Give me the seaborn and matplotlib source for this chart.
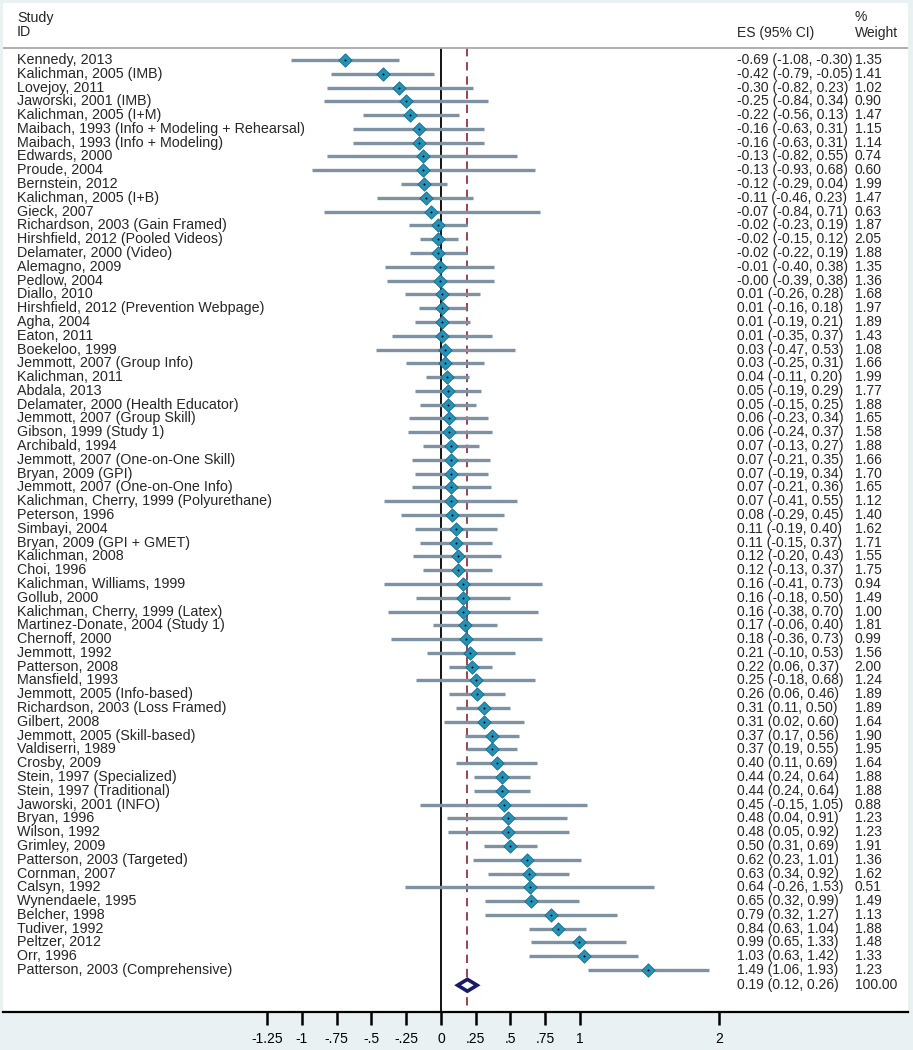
import matplotlib
matplotlib.use("Agg")
import matplotlib.pyplot as plt
import seaborn as sns
import pandas as pd

# study data
studies = [
    "Kennedy, 2013", "Kalichman, 2005 (IMB)", "Lovejoy, 2011", "Jaworski, 2001 (IMB)",
    "Kalichman, 2005 (I+M)", "Maibach, 1993 (Info + Modeling + Rehearsal)",
    "Maibach, 1993 (Info + Modeling)", "Edwards, 2000", "Proude, 2004", "Bernstein, 2012",
    "Kalichman, 2005 (I+B)", "Gieck, 2007", "Richardson, 2003 (Gain Framed)",
    "Hirshfield, 2012 (Pooled Videos)", "Delamater, 2000 (Video)", "Alemagno, 2009",
    "Pedlow, 2004", "Diallo, 2010", "Hirshfield, 2012 (Prevention Webpage)", "Agha, 2004",
    "Eaton, 2011", "Boekeloo, 1999", "Jemmott, 2007 (Group Info)", "Kalichman, 2011",
    "Abdala, 2013", "Delamater, 2000 (Health Educator)", "Jemmott, 2007 (Group Skill)",
    "Gibson, 1999 (Study 1)", "Archibald, 1994", "Jemmott, 2007 (One-on-One Skill)",
    "Bryan, 2009 (GPI)", "Jemmott, 2007 (One-on-One Info)",
    "Kalichman, Cherry, 1999 (Polyurethane)", "Peterson, 1996", "Simbayi, 2004",
    "Bryan, 2009 (GPI + GMET)", "Kalichman, 2008", "Choi, 1996", "Kalichman, Williams, 1999",
    "Gollub, 2000", "Kalichman, Cherry, 1999 (Latex)", "Martinez-Donate, 2004 (Study 1)",
    "Chernoff, 2000", "Jemmott, 1992", "Patterson, 2008", "Mansfield, 1993",
    "Jemmott, 2005 (Info-based)", "Richardson, 2003 (Loss Framed)", "Gilbert, 2008",
    "Jemmott, 2005 (Skill-based)", "Valdiserri, 1989", "Crosby, 2009",
    "Stein, 1997 (Specialized)", "Stein, 1997 (Traditional)", "Jaworski, 2001 (INFO)",
    "Bryan, 1996", "Wilson, 1992", "Grimley, 2009", "Patterson, 2003 (Targeted)",
    "Cornman, 2007", "Calsyn, 1992", "Wynendaele, 1995", "Belcher, 1998", "Tudiver, 1992",
    "Peltzer, 2012", "Orr, 1996", "Patterson, 2003 (Comprehensive)",
]
es = [-0.69, -0.42, -0.30, -0.25, -0.22, -0.16, -0.16, -0.13, -0.13, -0.12,
      -0.11, -0.07, -0.02, -0.02, -0.02, -0.01, -0.004, 0.01, 0.01, 0.01,
      0.01, 0.03, 0.03, 0.04, 0.05, 0.05, 0.06, 0.06, 0.07, 0.07,
      0.07, 0.07, 0.07, 0.08, 0.11, 0.11, 0.12, 0.12, 0.16, 0.16,
      0.16, 0.17, 0.18, 0.21, 0.22, 0.25, 0.26, 0.31, 0.31, 0.37,
      0.37, 0.40, 0.44, 0.44, 0.45, 0.48, 0.48, 0.50, 0.62, 0.63,
      0.64, 0.65, 0.79, 0.84, 0.99, 1.03, 1.49]
lo = [-1.08, -0.79, -0.82, -0.84, -0.56, -0.63, -0.63, -0.82, -0.93, -0.29,
      -0.46, -0.84, -0.23, -0.15, -0.22, -0.40, -0.39, -0.26, -0.16, -0.19,
      -0.35, -0.47, -0.25, -0.11, -0.19, -0.15, -0.23, -0.24, -0.13, -0.21,
      -0.19, -0.21, -0.41, -0.29, -0.19, -0.15, -0.20, -0.13, -0.41, -0.18,
      -0.38, -0.06, -0.36, -0.10, 0.06, -0.18, 0.06, 0.11, 0.02, 0.17,
      0.19, 0.11, 0.24, 0.24, -0.15, 0.04, 0.05, 0.31, 0.23, 0.34,
      -0.26, 0.32, 0.32, 0.63, 0.65, 0.63, 1.06]
hi = [-0.30, -0.05, 0.23, 0.34, 0.13, 0.31, 0.31, 0.55, 0.68, 0.04,
      0.23, 0.71, 0.19, 0.12, 0.19, 0.38, 0.38, 0.28, 0.18, 0.21,
      0.37, 0.53, 0.31, 0.20, 0.29, 0.25, 0.34, 0.37, 0.27, 0.35,
      0.34, 0.36, 0.55, 0.45, 0.40, 0.37, 0.43, 0.37, 0.73, 0.50,
      0.70, 0.40, 0.73, 0.53, 0.37, 0.68, 0.46, 0.50, 0.60, 0.56,
      0.55, 0.69, 0.64, 0.64, 1.05, 0.91, 0.92, 0.69, 1.01, 0.92,
      1.53, 0.99, 1.27, 1.04, 1.33, 1.42, 1.93]
weight = [1.35, 1.41, 1.02, 0.90, 1.47, 1.15, 1.14, 0.74, 0.60, 1.99,
          1.47, 0.63, 1.87, 2.05, 1.88, 1.35, 1.36, 1.68, 1.97, 1.89,
          1.43, 1.08, 1.66, 1.99, 1.77, 1.88, 1.65, 1.58, 1.88, 1.66,
          1.70, 1.65, 1.12, 1.40, 1.62, 1.71, 1.55, 1.75, 0.94, 1.49,
          1.00, 1.81, 0.99, 1.56, 2.00, 1.24, 1.89, 1.89, 1.64, 1.90,
          1.95, 1.64, 1.88, 1.88, 0.88, 1.23, 1.23, 1.91, 1.36, 1.62,
          0.51, 1.49, 1.13, 1.88, 1.48, 1.33, 1.23]
overall_es, overall_lo, overall_hi, overall_weight = 0.19, 0.12, 0.26, 100.00
xticks = [-1.25, -1, -0.75, -0.5, -0.25, 0, 0.25, 0.5, 0.75, 1, 2]
xtick_labels = ["-1.25", "-1", "-.75", "-.5", "-.25", "0", ".25", ".5", ".75", "1", "2"]

df = pd.DataFrame({"study": studies, "es": es, "lo": lo, "hi": hi, "weight": weight})
df["row"] = range(1, len(df) + 1)
overall_row = len(df) + 1.1

sns.set_theme(style="white")
plt.rcParams["font.family"] = ["Liberation Sans", "DejaVu Sans"]

fig = plt.figure(figsize=(9.13, 10.5), dpi=100, facecolor="#e9f1f3")
ax = fig.add_axes([3 / 913, 38 / 1050, 905 / 913, 1009 / 1050])
ax.set_facecolor("white")
ax.set_xlim(-3.151, 3.36)
ax.set_ylim(70.04, -3.13)
top = 0.13

# reference lines
ax.vlines(0, top, 70.04, color="black", lw=1.3, zorder=1)
ax.vlines(overall_es, top, 70.04, color="#8b2232", lw=1.2,
          linestyles=(0, (5, 3.5)), zorder=1)
ax.axhline(top, color="#a9a9a9", lw=1.3)

# confidence intervals and point estimates
ax.hlines(df["row"], df["lo"], df["hi"], color="#7f92a2", lw=2.4, zorder=2)
sns.scatterplot(data=df, x="es", y="row", marker="D", s=46, color="#2592b8",
                edgecolor="#17688a", linewidth=0.6, zorder=3, ax=ax, legend=False)
sns.scatterplot(data=df, x="es", y="row", marker="o", s=2, color="black",
                linewidth=0, zorder=4, ax=ax, legend=False)

# pooled estimate diamond
h = 0.43
ax.fill([overall_lo, overall_es, overall_hi, overall_es],
        [overall_row, overall_row - h, overall_row, overall_row + h],
        facecolor="white", edgecolor="#1a1a6b", lw=2.6, zorder=3)

# text columns
tr = ax.get_yaxis_transform()
fs = 10.3
fs_num = 10
ax.text(0.0155, -2.05, "Study", transform=tr, fontsize=fs, va="center")
ax.text(0.0155, -1.03, "ID", transform=tr, fontsize=fs, va="center")
ax.text(0.811, -0.96, "ES (95% CI)", transform=tr, fontsize=fs_num, va="center")
ax.text(0.941, -2.12, "%", transform=tr, fontsize=fs_num, va="center")
ax.text(0.941, -0.96, "Weight", transform=tr, fontsize=fs_num, va="center")

for _, r in df.iterrows():
    ax.text(0.0155, r["row"], r["study"], transform=tr, fontsize=fs, va="center")
    ax.text(0.811, r["row"], f"{r['es']:.2f} ({r['lo']:.2f}, {r['hi']:.2f})",
            transform=tr, fontsize=fs_num, va="center")
    ax.text(0.941, r["row"], f"{r['weight']:.2f}", transform=tr, fontsize=fs_num, va="center")

ax.text(0.811, overall_row, f"{overall_es:.2f} ({overall_lo:.2f}, {overall_hi:.2f})",
        transform=tr, fontsize=fs_num, va="center")
ax.text(0.941, overall_row, f"{overall_weight:.2f}", transform=tr, fontsize=fs_num,
        va="center")

# axes styling
for s in ["top", "left", "right"]:
    ax.spines[s].set_visible(False)
ax.spines["bottom"].set_color("black")
ax.spines["bottom"].set_linewidth(1.6)
ax.set_xticks(xticks)
ax.set_xticklabels(xtick_labels)
ax.set_yticks([])
ax.tick_params(axis="x", direction="out", length=9.4, width=1.8, labelsize=10,
               pad=5, bottom=True, colors="black")
ax.set_xlabel("")
ax.set_ylabel("")

fig.savefig("out.png", dpi=100, facecolor=fig.get_facecolor())
